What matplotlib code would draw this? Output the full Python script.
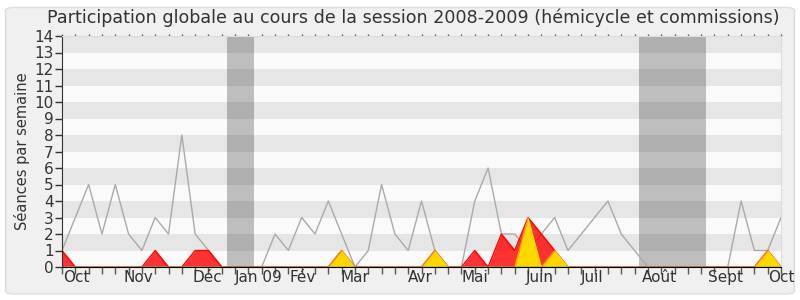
import matplotlib
matplotlib.use("Agg")
from matplotlib import pyplot as plt
from matplotlib.patches import FancyBboxPatch
import numpy as np

# weekly values, session 2008-2009
total = [1, 3, 5, 2, 5, 2, 1, 3, 2, 8, 2, 1, 0, 0, 0, 0, 2, 1, 3, 2,
         4, 2, 0, 1, 5, 2, 1, 4, 1, 0, 0, 4, 6, 2, 2, 1, 2, 3, 1, 2,
         3, 4, 2, 1, 0, 0, 0, 0, 0, 0, 0, 4, 1, 1, 3]
presences = [1, 0, 0, 0, 0, 0, 0, 1, 0, 0, 1, 1, 0, 0, 0, 0, 0, 0, 0, 0,
             0, 1, 0, 0, 0, 0, 0, 0, 1, 0, 0, 1, 0, 2, 1, 3, 2, 1, 0, 0,
             0, 0, 0, 0, 0, 0, 0, 0, 0, 0, 0, 0, 0, 1, 0]
interventions = [0, 0, 0, 0, 0, 0, 0, 0, 0, 0, 0, 0, 0, 0, 0, 0, 0, 0, 0, 0,
                 0, 1, 0, 0, 0, 0, 0, 0, 1, 0, 0, 0, 0, 0, 0, 3, 0, 1, 0, 0,
                 0, 0, 0, 0, 0, 0, 0, 0, 0, 0, 0, 0, 0, 1, 0]
questions = [0] * 55

vacances = [(12.4, 14.45), (43.35, 48.35)]
mois = ["Oct", "Nov", "Déc", "Jan 09", "Fév", "Mar", "Avr", "Mai", "Juin",
        "Juil", "Août", "Sept", "Oct"]
mois_pos = [1.1, 5.75, 10.9, 14.8, 18.1, 22.0, 26.9, 31.0, 35.9, 39.8,
            44.85, 49.8, 54.0]

weeks = np.arange(len(total))

fig = plt.figure(figsize=(8, 3), dpi=100)
fig.patch.set_facecolor("white")
fig.patches.append(FancyBboxPatch((0.007, 0.02), 0.986, 0.955,
                                  boxstyle="round,pad=0,rounding_size=0.01",
                                  transform=fig.transFigure, facecolor="#f0f0f0",
                                  edgecolor="#dddddd", lw=1, zorder=-10))

ax = fig.add_axes([0.0775, 0.11, 0.8988, 0.77])
ax.set_facecolor("#fafafa")

for a, b in vacances:
    ax.axvspan(a, b, color="#bebebe", lw=0, zorder=0)
for k in range(1, 14, 2):
    ax.axhspan(k, k + 1, color="black", alpha=0.08, lw=0, zorder=0.5)

ax.plot(weeks, total, color="#aaaaaa", lw=1, zorder=1)
ax.fill_between(weeks, presences, color="#ff0000", alpha=0.8, lw=0, zorder=2)
ax.plot(weeks, presences, color="#ff0000", lw=1, zorder=2.1)
ax.fill_between(weeks, interventions, color="#ffd700", lw=0, zorder=3)
ax.plot(weeks, interventions, color="#ffee00", lw=0.8, alpha=0.6, zorder=3.1)
ax.plot(weeks, questions, color="#00aa00", lw=1, zorder=3.2)

ax.set_xlim(0, 54)
ax.set_ylim(0, 14)
ax.set_yticks(range(15))
ax.xaxis.remove_overlapping_locs = False
ax.set_xticks(weeks)
ax.set_xticklabels([])
ax.set_xticks(mois_pos, minor=True)
ax.set_xticklabels(mois, minor=True)
ax.tick_params(axis="x", which="major", bottom=True, length=5, width=1,
               color="black", direction="out")
ax.tick_params(axis="x", which="major", top=True, length=1.2, width=1,
               color="#555555", direction="out")
ax.tick_params(axis="x", which="major", bottom=True, length=5)
ax.xaxis.set_tick_params(which="major", length=5)
for t in ax.xaxis.get_major_ticks():
    t.tick2line.set_markersize(1.2)
    t.tick2line.set_markeredgecolor("#555555")
ax.tick_params(axis="x", which="minor", length=0, pad=2, labelsize=11,
               labelcolor="#333333")
ax.tick_params(axis="y", length=5, width=1, color="#333333", pad=1,
               labelsize=11, labelcolor="#333333")

for s in ["top", "right"]:
    ax.spines[s].set_color("#dddddd")
ax.spines["bottom"].set_color("black")
ax.spines["left"].set_color("#333333")
for s in ax.spines.values():
    s.set_zorder(5)

ax.set_ylabel("Séances par semaine", fontsize=10.5, color="#333333", labelpad=3)
fig.text(0.516, 0.94, "Participation globale au cours de la session 2008-2009 (hémicycle et commissions)",
         ha="center", va="center", fontsize=12.6, color="#333333")

fig.savefig("out.png", dpi=100, facecolor=fig.get_facecolor())
